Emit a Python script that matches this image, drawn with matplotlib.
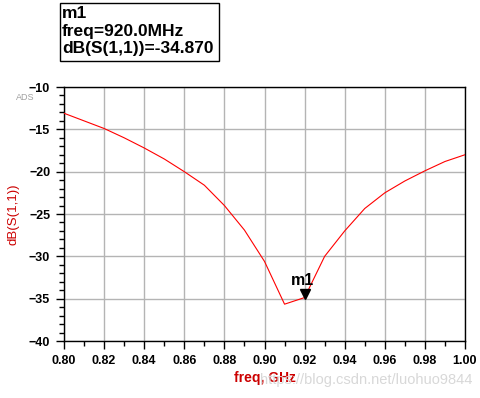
#!/usr/bin/env python3
"""
ADS-style S11 plot: dB(S(1,1)) versus frequency with marker m1.
"""

import matplotlib
matplotlib.use("Agg")
import matplotlib.pyplot as plt
from matplotlib.ticker import MultipleLocator
from matplotlib.transforms import offset_copy
from matplotlib.patches import Rectangle

plt.rcParams['font.family'] = ['Liberation Sans', 'DejaVu Sans']

# Data (0.01 GHz steps)
freq_ghz = [0.80, 0.81, 0.82, 0.83, 0.84, 0.85, 0.86, 0.87, 0.88, 0.89, 0.90,
            0.91, 0.92, 0.93, 0.94, 0.95, 0.96, 0.97, 0.98, 0.99, 1.00]
s11_db = [-13.1, -14.0, -14.9, -16.0, -17.2, -18.5, -20.0, -21.6, -24.0, -26.9, -30.6,
          -35.65, -34.87, -30.0, -27.0, -24.35, -22.5, -21.1, -19.9, -18.8, -18.0]

marker_name = "m1"
marker_freq = 0.92
marker_db = -34.870

fig = plt.figure(figsize=(4.81, 3.98), dpi=100)
ax = fig.add_axes([0.1331, 0.1432, 0.8336, 0.6382])

ax.plot(freq_ghz, s11_db, color='red', linewidth=0.8, zorder=3)

ax.set_xlim(0.80, 1.00)
ax.set_ylim(-40, -10)
ax.xaxis.set_major_locator(MultipleLocator(0.02))
ax.xaxis.set_minor_locator(MultipleLocator(0.01))
ax.yaxis.set_major_locator(MultipleLocator(5))
ax.yaxis.set_minor_locator(MultipleLocator(1))
ax.set_xticklabels([f"{v:.2f}" for v in ax.get_xticks()])

ax.grid(which='major', color='#b4b4b4', linewidth=1.0, zorder=1)
ax.tick_params(which='major', direction='out', length=6, width=1, colors='black',
               labelsize=9, pad=4)
ax.tick_params(which='minor', direction='out', length=3.5, width=1, colors='black')
for lbl in ax.get_xticklabels() + ax.get_yticklabels():
    lbl.set_fontweight('bold')
for sp in ax.spines.values():
    sp.set_color('black')
    sp.set_linewidth(1.0)

ax.set_xlabel("freq, GHz", color='#cc0000', fontsize=10, fontweight='bold', labelpad=3)
ax.set_ylabel("dB(S(1,1))", color='#cc0000', fontsize=9.5, labelpad=7)

# marker triangle with its tip on the trace
tri_tr = offset_copy(ax.transData, fig=fig, x=0, y=4, units='dots')
ax.plot([marker_freq], [marker_db], marker='v', markersize=7, color='black',
        transform=tri_tr, zorder=4, clip_on=False)
ax.annotate(marker_name, (marker_freq, marker_db), xytext=(-1.5, 7),
            textcoords='offset points', ha='center', va='bottom',
            fontsize=11.5, fontweight='bold', color='black', zorder=5)

# ADS tag
fig.text(16 / 481, 1 - 97 / 398, "ADS", color='#a0a0a0', fontsize=6.5,
         ha='left', va='center')

# marker readout box
fig.patches.append(Rectangle((60 / 481, 1 - 61 / 398), 159 / 481, 58 / 398,
                             transform=fig.transFigure, facecolor='white',
                             edgecolor='black', linewidth=1.0))
box_lines = [marker_name,
             f"freq={marker_freq * 1000:.1f}MHz",
             f"dB(S(1,1))={marker_db:.3f}"]
for i, line in enumerate(box_lines):
    fig.text(62 / 481, 1 - (14 + i * 17.5) / 398, line, fontsize=12.5,
             fontweight='bold', ha='left', va='center', color='black')

# watermark
fig.text(472 / 481, 1 - 380 / 398, "https://blog.csdn.net/luohuo9844",
         color='#d8d8d8', fontsize=10.5, ha='right', va='center')

fig.savefig("out.png", dpi=100)
